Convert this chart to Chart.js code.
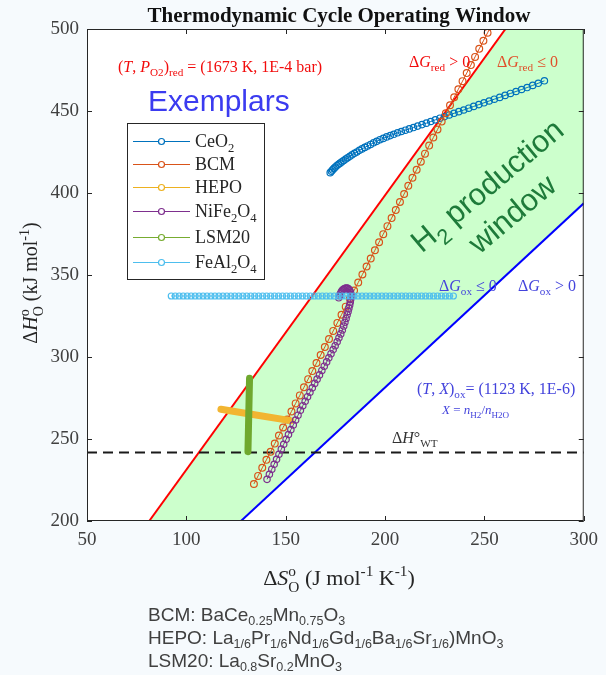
<!DOCTYPE html>
<html>
<head>
<meta charset="utf-8">
<script src="https://cdn.jsdelivr.net/npm/chart.js@4/dist/chart.umd.min.js"></script>
<style>
  html, body { margin: 0; padding: 0; background: #f6fafd; }
  canvas { display: block; }
</style>
</head>
<body>
<canvas id="c" width="606" height="675"></canvas>
<script>
// Axis ticks
const xTicks = [50, 100, 150, 200, 250, 300];
const yTicks = [200, 250, 300, 350, 400, 450, 500];

// Operating-window boundaries (ΔS°, ΔH°)
const redS = [81.3, 260.6];      // ΔG_red = 0 at 1673 K, 1E-4 bar
const redH = [200, 500];
const blueS = [127.5, 300];      // ΔG_ox = 0 at 1123 K, X = 1E-6
const blueH = [200, 393.7];
const windowS = [81.3, 127.5, 300, 300, 260.6];
const windowH = [200, 200, 393.7, 500, 500];
const waterThermolysisH = 241.8; // ΔH°_WT

// Material series
const ceo2S = [172.4,173.0,173.6,174.3,175.0,175.8,176.6,177.4,178.3,179.2,180.2,181.2,182.3,183.4,184.6,185.8,187.1,188.4,189.8,191.2,192.7,194.2,195.8,197.4,199.1,200.8,202.6,204.4,206.3,208.2,210.2,212.2,214.3,216.4,218.6,220.8,223.0,225.3,227.6,229.9,232.3,234.7,237.1,239.6,242.1,244.6,247.2,249.8,252.4,255.0,257.7,260.4,263.1,265.9,268.7,271.5,274.3,277.1,280.2];
const ceo2H = [412.4,413.3,414.1,415.0,415.8,416.7,417.5,418.2,419.0,419.8,420.7,421.5,422.4,423.3,424.2,425.0,426.0,426.9,427.8,428.7,429.6,430.6,431.5,432.5,433.3,434.2,435.0,435.8,436.7,437.5,438.3,439.1,439.9,440.8,441.7,442.6,443.6,444.6,445.6,446.6,447.6,448.6,449.6,450.6,451.7,452.8,453.9,455.0,456.1,457.2,458.3,459.5,460.7,461.9,463.1,464.3,465.6,466.9,468.4];

const bcmS = [134.0,136.1,138.2,140.3,142.4,144.5,146.6,148.7,150.8,152.9,155.0,157.1,159.2,161.3,163.4,165.5,167.6,169.7,171.8,173.9,176.0,178.1,180.2,182.3,184.4,186.5,188.6,190.7,192.8,194.9,197.0,199.1,201.2,203.3,205.4,207.5,209.6,211.7,213.8,215.9,218.0,220.1,222.2,224.3,226.4,228.5,230.6,232.7,234.8,236.9,239.0,241.1,243.2,245.3,247.4,249.5,251.6,253.7];
const bcmH = [222.6,227.5,232.4,237.3,242.2,247.2,252.1,257.0,261.9,266.8,271.7,276.6,281.5,286.5,291.4,296.3,301.2,306.1,311.0,315.9,320.8,325.8,330.7,335.6,340.5,345.4,350.3,355.2,360.1,365.1,370.0,374.9,379.8,384.7,389.6,394.5,399.4,404.4,409.3,414.2,419.1,424.0,428.9,433.8,438.7,443.6,448.6,453.5,458.4,463.3,468.2,473.1,478.0,483.0,487.9,492.8,497.7,502.6];

const hepoS = [117.4, 135.0, 152.5];
const hepoH = [268.1, 264.6, 261.2];

const nife2o4S = [140.6,141.8,143.0,144.2,145.4,146.6,147.8,149.0,150.2,151.4,152.6,153.8,155.0,156.2,157.4,158.6,159.8,161.0,162.2,163.4,164.6,165.8,167.0,168.2,169.4,170.6,171.7,172.8,173.9,174.9,175.9,176.8,177.7,178.5,179.2,179.8,180.4,180.9,181.4,181.8,182.2,182.5,182.7,182.8,182.8,182.6,182.3,181.9,181.4,180.9,180.3,179.7,179.1,178.5,178.0,177.5,177.1,176.7];
const nife2o4H = [225.4,228.5,231.6,234.6,237.6,240.7,243.8,246.8,249.8,252.7,255.7,258.6,261.6,264.5,267.5,270.3,273.0,275.8,278.5,281.2,283.9,286.5,289.1,291.8,294.4,297.0,299.5,302.0,304.5,306.9,309.3,311.7,314.1,316.5,318.9,321.2,323.5,325.7,327.8,329.8,331.7,333.5,335.2,336.8,338.2,339.4,340.4,341.2,341.7,342.0,342.0,341.8,341.3,340.6,339.7,338.6,337.4,336.1];

const lsm20S = [131.0, 131.4, 131.8];
const lsm20H = [242.3, 264.6, 287.0];

const feal2o4S = [92.4,94.4,96.4,98.4,100.4,102.4,104.4,106.4,108.4,110.4,112.4,114.4,116.4,118.4,120.4,122.4,124.4,126.4,128.4,130.4,132.4,134.4,136.4,138.4,140.4,142.4,144.4,146.4,148.4,150.4,152.4,154.4,156.4,158.4,160.4,162.4,164.4,166.4,168.4,170.4,172.4,174.4,176.4,178.4,180.4,182.4,184.4,186.4,188.4,190.4,192.4,194.4,196.4,198.4,200.4,202.4,204.4,206.4,208.4,210.4,212.4,214.4,216.4,218.4,220.4,222.4,224.4,226.4,228.4,230.4,232.4,234.4];
const feal2o4Level = 337.2;

const seriesNames = ['CeO2', 'BCM', 'HEPO', 'NiFe2O4', 'LSM20', 'FeAl2O4'];
const seriesColors = ['#0072BD', '#D95319', '#EDB120', '#7E2F8E', '#77AC30', '#4DBEEE'];

const SERIF = '"Liberation Serif", "DejaVu Serif", serif';
const SANS = '"Liberation Sans", Arial, sans-serif';
const PAGE_BG = '#f6fafd';

const pts = (s, h) => s.map((v, i) => ({ x: v, y: Array.isArray(h) ? h[i] : h }));

// Draws a run of text pieces with italics, subscripts and superscripts.
function rich(ctx, parts, x, y, o) {
  const size = o.size, fam = o.family, weight = o.weight || 'normal';
  const ss = o.subScale || 0.7;
  const font = (sz, it) => (it ? 'italic ' : 'normal ') + weight + ' ' + sz + 'px ' + fam;
  const items = parts.map(p => typeof p === 'string' ? { t: p } : p);
  const widths = items.map(it => {
    if (it.stack) {
      ctx.font = font(size * ss, false);
      return Math.max(ctx.measureText(it.sup).width, ctx.measureText(it.sub).width);
    }
    ctx.font = font((it.sub || it.sup) ? size * ss : size, it.i);
    return ctx.measureText(it.t).width;
  });
  const total = widths.reduce((a, b) => a + b, 0);
  let cx = x;
  if (o.align === 'center') cx = x - total / 2;
  else if (o.align === 'right') cx = x - total;
  ctx.save();
  ctx.fillStyle = o.color;
  ctx.textAlign = 'left';
  ctx.textBaseline = 'alphabetic';
  items.forEach((it, k) => {
    if (it.stack) {
      ctx.font = font(size * ss, false);
      ctx.fillText(it.sup, cx, y - size * 0.42);
      ctx.fillText(it.sub, cx, y + size * 0.3);
    } else if (it.sub) {
      ctx.font = font(size * ss, it.i);
      ctx.fillText(it.t, cx, y + size * (o.subDrop || 0.28));
    } else if (it.sup) {
      ctx.font = font(size * ss, it.i);
      ctx.fillText(it.t, cx, y - size * 0.4);
    } else {
      ctx.font = font(size, it.i);
      ctx.fillText(it.t, cx, y);
    }
    cx += widths[k];
  });
  ctx.restore();
  return total;
}

const legendLabels = [
  ['CeO', { t: '2', sub: true }],
  ['BCM'],
  ['HEPO'],
  ['NiFe', { t: '2', sub: true }, 'O', { t: '4', sub: true }],
  ['LSM20'],
  ['FeAl', { t: '2', sub: true }, 'O', { t: '4', sub: true }]
];
const legendRowsY = [141, 164, 187, 211, 237, 262];

const deco = {
  id: 'deco',
  beforeDraw(chart) {
    const { ctx, chartArea: a } = chart;
    ctx.save();
    ctx.fillStyle = PAGE_BG;
    ctx.fillRect(0, 0, chart.width, chart.height);
    ctx.fillStyle = '#ffffff';
    ctx.fillRect(a.left, a.top, a.right - a.left, a.bottom - a.top);
    ctx.restore();
  },
  afterDatasetsDraw(chart) {
    const { ctx, chartArea: a, scales } = chart;
    const xs = scales.x, ys = scales.y;

    // axes box with inward ticks
    ctx.save();
    ctx.strokeStyle = '#262626';
    ctx.lineWidth = 1;
    ctx.strokeRect(a.left + 0.5, a.top + 0.5, a.right - a.left - 1, a.bottom - a.top - 1);
    ctx.beginPath();
    xTicks.forEach(v => {
      const px = Math.round(xs.getPixelForValue(v)) + 0.5;
      ctx.moveTo(px, a.bottom); ctx.lineTo(px, a.bottom - 5);
      ctx.moveTo(px, a.top); ctx.lineTo(px, a.top + 5);
    });
    yTicks.forEach(v => {
      const py = Math.round(ys.getPixelForValue(v)) + 0.5;
      ctx.moveTo(a.left, py); ctx.lineTo(a.left + 5, py);
      ctx.moveTo(a.right, py); ctx.lineTo(a.right - 5, py);
    });
    ctx.stroke();
    ctx.restore();

    // annotations
    rich(ctx, ['(', { t: 'T', i: true }, ', ', { t: 'P', i: true }, { t: 'O2', sub: true }, ')', { t: 'red', sub: true }, ' = (1673 K, 1E-4 bar)'],
      118, 72, { size: 16, family: SERIF, color: '#f20c0c' });
    rich(ctx, ['Δ', { t: 'G', i: true }, { t: 'red', sub: true }, ' > 0'], 409, 67, { size: 16, family: SERIF, color: '#f20c0c' });
    rich(ctx, ['Δ', { t: 'G', i: true }, { t: 'red', sub: true }, ' ≤ 0'], 497, 67, { size: 16, family: SERIF, color: '#e0502a' });
    rich(ctx, ['Exemplars'], 148, 111, { size: 30, family: SANS, color: '#3b3bf0' });
    rich(ctx, ['Δ', { t: 'G', i: true }, { t: 'ox', sub: true }, ' ≤ 0'], 439, 291, { size: 16, family: SERIF, color: '#4343dc' });
    rich(ctx, ['Δ', { t: 'G', i: true }, { t: 'ox', sub: true }, ' > 0'], 518, 291, { size: 16, family: SERIF, color: '#4343dc' });
    rich(ctx, ['(', { t: 'T', i: true }, ', ', { t: 'X', i: true }, ')', { t: 'ox', sub: true }, '= (1123 K, 1E-6)'], 417, 394, { size: 16, family: SERIF, color: '#4343dc' });
    rich(ctx, [{ t: 'X', i: true }, ' = ', { t: 'n', i: true }, { t: 'H2', sub: true }, '/', { t: 'n', i: true }, { t: 'H2O', sub: true }], 442, 414, { size: 13, family: SERIF, color: '#4343dc' });
    rich(ctx, ['Δ', { t: 'H', i: true }, '°', { t: 'WT', sub: true }], 392, 443, { size: 16, family: SERIF, color: '#333333' });

    // rotated window label
    const ang = -40 * Math.PI / 180;
    ctx.save();
    ctx.translate(486.7, 185);
    ctx.rotate(ang);
    rich(ctx, ['H', { t: '2', sub: true }, ' production'], 0, 11, { size: 31, family: SANS, color: '#1e7b3a', align: 'center' });
    ctx.restore();
    ctx.save();
    ctx.translate(511.7, 213.3);
    ctx.rotate(ang);
    rich(ctx, ['window'], 0, 11, { size: 31, family: SANS, color: '#1e7b3a', align: 'center' });
    ctx.restore();

    // legend
    ctx.save();
    ctx.fillStyle = '#ffffff';
    ctx.fillRect(127, 123, 137, 156);
    ctx.strokeStyle = '#262626';
    ctx.lineWidth = 1;
    ctx.strokeRect(127.5, 123.5, 137, 156);
    seriesColors.forEach((c, i) => {
      const yy = legendRowsY[i] + 0.5;
      ctx.strokeStyle = c;
      ctx.lineWidth = 1.2;
      ctx.beginPath(); ctx.moveTo(133, yy); ctx.lineTo(190, yy); ctx.stroke();
      ctx.beginPath(); ctx.arc(161.5, yy, 3, 0, Math.PI * 2);
      ctx.fillStyle = '#ffffff'; ctx.fill(); ctx.stroke();
      rich(ctx, legendLabels[i], 195, legendRowsY[i] + 6, { size: 18, family: SERIF, color: '#262626' });
    });
    ctx.restore();
  },
  afterDraw(chart) {
    const { ctx } = chart;
    rich(ctx, ['Thermodynamic Cycle Operating Window'], 339, 22, { size: 21, family: SERIF, color: '#111111', weight: 'bold', align: 'center' });
    rich(ctx, ['Δ', { t: 'S', i: true }, { stack: true, sup: 'o', sub: 'O' }, ' (J mol', { t: '-1', sup: true }, ' K', { t: '-1', sup: true }, ')'],
      339, 585, { size: 22, family: SERIF, color: '#262626', align: 'center' });
    ctx.save();
    ctx.translate(37, 283);
    ctx.rotate(-Math.PI / 2);
    rich(ctx, ['Δ', { t: 'H', i: true }, { stack: true, sup: 'o', sub: 'O' }, ' (kJ mol', { t: '-1', sup: true }, ')'],
      0, 0, { size: 20, family: SERIF, color: '#262626', align: 'center' });
    ctx.restore();

    const fo = { size: 19, family: SANS, color: '#404040', subScale: 0.66, subDrop: 0.22 };
    rich(ctx, ['BCM: BaCe', { t: '0.25', sub: true }, 'Mn', { t: '0.75', sub: true }, 'O', { t: '3', sub: true }], 148, 621, fo);
    rich(ctx, ['HEPO: La', { t: '1/6', sub: true }, 'Pr', { t: '1/6', sub: true }, 'Nd', { t: '1/6', sub: true }, 'Gd', { t: '1/6', sub: true }, 'Ba', { t: '1/6', sub: true }, 'Sr', { t: '1/6', sub: true }, ')MnO', { t: '3', sub: true }], 148, 644, fo);
    rich(ctx, ['LSM20: La', { t: '0.8', sub: true }, 'Sr', { t: '0.2', sub: true }, 'MnO', { t: '3', sub: true }], 148, 667, fo);
  }
};

function series(i, s, h, extra) {
  return Object.assign({
    label: seriesNames[i],
    data: pts(s, h),
    showLine: true,
    borderColor: seriesColors[i],
    borderWidth: 1,
    pointStyle: 'circle',
    pointRadius: 3.2,
    pointBorderWidth: 1.2,
    pointBorderColor: seriesColors[i],
    pointBackgroundColor: 'rgba(255,255,255,0)',
    order: 6 - i
  }, extra || {});
}

const thickBand = { borderWidth: 7, borderCapStyle: 'round', borderJoinStyle: 'round', pointRadius: 0 };

const datasets = [
  { label: 'window', data: pts(windowS, windowH), showLine: true, fill: 'shape',
    backgroundColor: 'rgb(204,255,204)', borderWidth: 0, pointRadius: 0, order: 100 },
  { label: 'red', data: pts(redS, redH), showLine: true, borderColor: '#ff0000', borderWidth: 2, pointRadius: 0, order: 90 },
  { label: 'blue', data: pts(blueS, blueH), showLine: true, borderColor: '#0000ff', borderWidth: 2, pointRadius: 0, order: 90 },
  { label: 'WT', data: pts([50, 300], waterThermolysisH), showLine: true, borderColor: '#1a1a1a', borderWidth: 2, borderDash: [10, 6], pointRadius: 0, order: 80 },
  series(0, ceo2S, ceo2H),
  series(1, bcmS, bcmH, { pointRadius: 3.4 }),
  series(2, hepoS, hepoH, Object.assign({ borderColor: '#F2B531' }, thickBand)),
  series(3, nife2o4S, nife2o4H),
  series(4, lsm20S, lsm20H, Object.assign({ borderColor: '#6FA82E' }, thickBand)),
  series(5, feal2o4S, feal2o4Level, { pointRadius: 3 })
];

new Chart(document.getElementById('c'), {
  type: 'scatter',
  data: { datasets },
  options: {
    responsive: false,
    animation: false,
    devicePixelRatio: 1,
    events: [],
    layout: { padding: { top: 29, right: 16, bottom: 84, left: 0 } },
    plugins: { legend: { display: false }, tooltip: { enabled: false } },
    scales: {
      x: {
        type: 'linear', min: 50, max: 300,
        afterFit(s) { s.height = 70; },
        afterBuildTicks(s) { s.ticks = xTicks.map(v => ({ value: v })); },
        grid: { display: false, drawTicks: false },
        border: { display: false },
        ticks: { color: '#404040', padding: 8, font: { family: SERIF, size: 19 } }
      },
      y: {
        type: 'linear', min: 200, max: 500,
        afterFit(s) { s.width = 87; },
        afterBuildTicks(s) { s.ticks = yTicks.map(v => ({ value: v })); },
        grid: { display: false, drawTicks: false },
        border: { display: false },
        ticks: { color: '#404040', padding: 8, font: { family: SERIF, size: 19 } }
      }
    }
  },
  plugins: [deco]
});
</script>
</body>
</html>
